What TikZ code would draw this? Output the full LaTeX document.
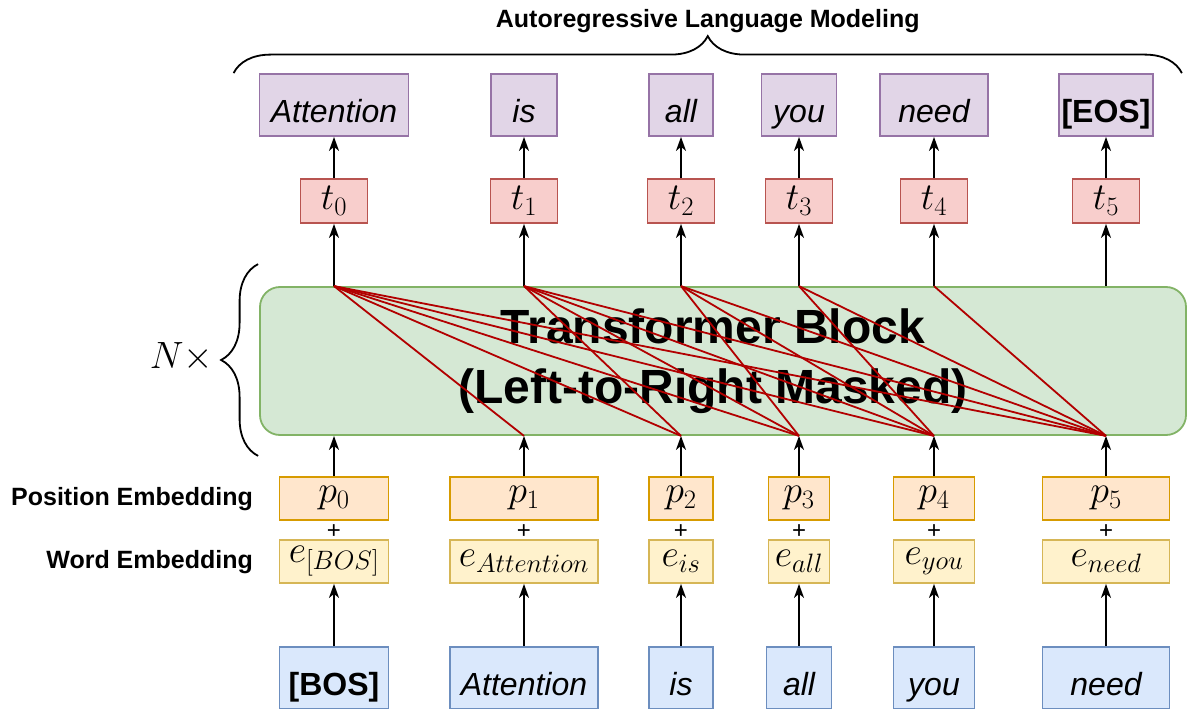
\RequirePackage{fix-cm}
\documentclass[tikz,border=0pt]{standalone}
\usepackage{fontspec}
\usepackage{amsmath}
\usepackage{tikz}
\usetikzlibrary{positioning, arrows.meta, decorations.pathreplacing, calc}
\usepackage{xcolor}
\newfontfamily\arialfont{Liberation Sans}
\definecolor{outfill}{HTML}{E1D5E7}
\definecolor{outline}{HTML}{9673A6}
\definecolor{tokfill}{HTML}{F8CECC}
\definecolor{tokline}{HTML}{B85450}
\definecolor{blkfill}{HTML}{D5E8D4}
\definecolor{blkline}{HTML}{82B366}
\definecolor{posfill}{HTML}{FFE6CC}
\definecolor{posline}{HTML}{D79B00}
\definecolor{wrdfill}{HTML}{FFF2CC}
\definecolor{wrdline}{HTML}{D6B656}
\definecolor{inpfill}{HTML}{DAE8FC}
\definecolor{inpline}{HTML}{6C8EBF}
\definecolor{maskred}{HTML}{B20000}

\begin{document}
\begin{tikzpicture}[x=1pt, y=-1pt, line width=1.5pt,
  box/.style={draw, line width=1.8pt, inner sep=0pt},
  wordfont/.style={font=\arialfont\itshape\fontsize{32}{36}\selectfont, text height=36pt, text depth=2pt},
  mathfont/.style={font=\fontsize{38}{44}\selectfont},
  outbox/.style={box, draw=outline, fill=outfill, minimum height=62pt, wordfont},
  tokbox/.style={box, draw=tokline, fill=tokfill, minimum height=44pt, minimum width=67pt, mathfont},
  posbox/.style={box, draw=posline, fill=posfill, minimum height=43pt, mathfont},
  wrdbox/.style={box, draw=wrdline, fill=wrdfill, minimum height=43pt, mathfont},
  inbox/.style={box, draw=inpline, fill=inpfill, minimum height=62pt, wordfont},
  lbl/.style={font=\arialfont\bfseries\fontsize{25}{30}\selectfont, inner sep=0pt, text height=18pt, text depth=5pt},
  plus/.style={font=\arialfont\fontsize{24}{24}\selectfont, inner sep=0pt, text height=14pt, text depth=0pt},
  arr/.style={-{Stealth[length=14pt, width=10pt, inset=4pt]}, line width=1.6pt},
  mask/.style={draw=maskred, line width=1.8pt},
  brace/.style={decorate, decoration={brace, amplitude=37pt}, line width=1.8pt}]
\useasboundingbox (0,0) rectangle (1189,709);

% output words
\node[outbox, minimum width=149pt] (o0) at (334,105) {Attention};
\node[outbox, minimum width=66pt] (o1) at (524,105) {is};
\node[outbox, minimum width=64pt] (o2) at (681,105) {all};
\node[outbox, minimum width=75pt] (o3) at (799,105) {you};
\node[outbox, minimum width=108pt] (o4) at (934,105) {need};
\node[outbox, minimum width=94pt, font=\arialfont\bfseries\fontsize{32}{36}\selectfont] (o5) at (1106,105) {[EOS]};

% hidden states
\node[tokbox] (t0) at (334,201) {$t_0$};
\node[tokbox] (t1) at (524,201) {$t_1$};
\node[tokbox] (t2) at (681,201) {$t_2$};
\node[tokbox] (t3) at (799,201) {$t_3$};
\node[tokbox] (t4) at (934,201) {$t_4$};
\node[tokbox] (t5) at (1106,201) {$t_5$};

% transformer block
\node[draw=blkline, fill=blkfill, line width=1.8pt, rounded corners=20pt, minimum width=926pt, minimum height=148pt] (blk) at (723,361) {};
\node[font=\arialfont\bfseries\fontsize{48}{60}\selectfont, align=center] (blktxt) at ([xshift=-10pt]blk.center) {Transformer Block\\(Left-to-Right Masked)};

% position embeddings
\node[posbox, minimum width=109pt] (p0) at (334,498.5) {$p_0$};
\node[posbox, minimum width=148pt] (p1) at (524,498.5) {$p_1$};
\node[posbox, minimum width=64pt] (p2) at (681,498.5) {$p_2$};
\node[posbox, minimum width=61pt] (p3) at (799,498.5) {$p_3$};
\node[posbox, minimum width=81pt] (p4) at (934,498.5) {$p_4$};
\node[posbox, minimum width=127pt] (p5) at (1106,498.5) {$p_5$};

% word embeddings
\node[wrdbox, minimum width=109pt] (e0) at (334,561.5) {$e_{[BOS]}$};
\node[wrdbox, minimum width=148pt] (e1) at (524,561.5) {$e_{Attention}$};
\node[wrdbox, minimum width=64pt] (e2) at (681,561.5) {$e_{is}$};
\node[wrdbox, minimum width=61pt] (e3) at (799,561.5) {$e_{all}$};
\node[wrdbox, minimum width=81pt] (e4) at (934,561.5) {$e_{you}$};
\node[wrdbox, minimum width=127pt] (e5) at (1106,561.5) {$e_{need}$};

% input words
\node[inbox, minimum width=109pt, font=\arialfont\bfseries\fontsize{32}{36}\selectfont] (i0) at (334,678) {[BOS]};
\node[inbox, minimum width=148pt] (i1) at (524,678) {Attention};
\node[inbox, minimum width=64pt] (i2) at (681,678) {is};
\node[inbox, minimum width=65pt] (i3) at (799,678) {all};
\node[inbox, minimum width=81pt] (i4) at (934,678) {you};
\node[inbox, minimum width=127pt] (i5) at (1106,678) {need};

% row labels
\node[lbl, anchor=east, left=25pt of p0] (poslbl) {Position Embedding};
\node[lbl, anchor=east, left=25pt of e0] (wrdlbl) {Word Embedding};

\foreach \c in {0,...,5} {
  \node[plus] (plus\c) at ($(p\c.south)!0.5!(e\c.north)+(0,1)$) {+};
  \draw[arr] (i\c) -- (e\c);
  \draw[arr] (p\c) -- (p\c |- blk.south);
  \draw[arr] (t\c |- blk.north) -- (t\c);
  \draw[arr] (t\c) -- (o\c);
}

% masked attention links
\foreach \i in {0,...,4} {
  \pgfmathtruncatemacro\k{\i+1}
  \foreach \j in {\k,...,5}
    \draw[mask] (t\i |- blk.north) -- (p\j |- blk.south);
}

% braces
\coordinate (bl) at ($(o0.north west)+(-25,0)$);
\coordinate (br) at ($(o5.north east)+(28,0)$);
\draw[brace] (bl) -- (br);
\node[lbl] (ttl) at ($(bl)!0.5!(br)+(0,-52)$) {Autoregressive Language Modeling};
\coordinate (nb) at ($(blk.south west)+(-1,20)$);
\coordinate (nt) at ($(blk.north west)+(-1,-22)$);
\draw[brace] (nb) -- (nt);
\node[font=\fontsize{38}{44}\selectfont, inner sep=0pt, anchor=east] (nx) at (214,357) {$N\times$};
\end{tikzpicture}
\end{document}
